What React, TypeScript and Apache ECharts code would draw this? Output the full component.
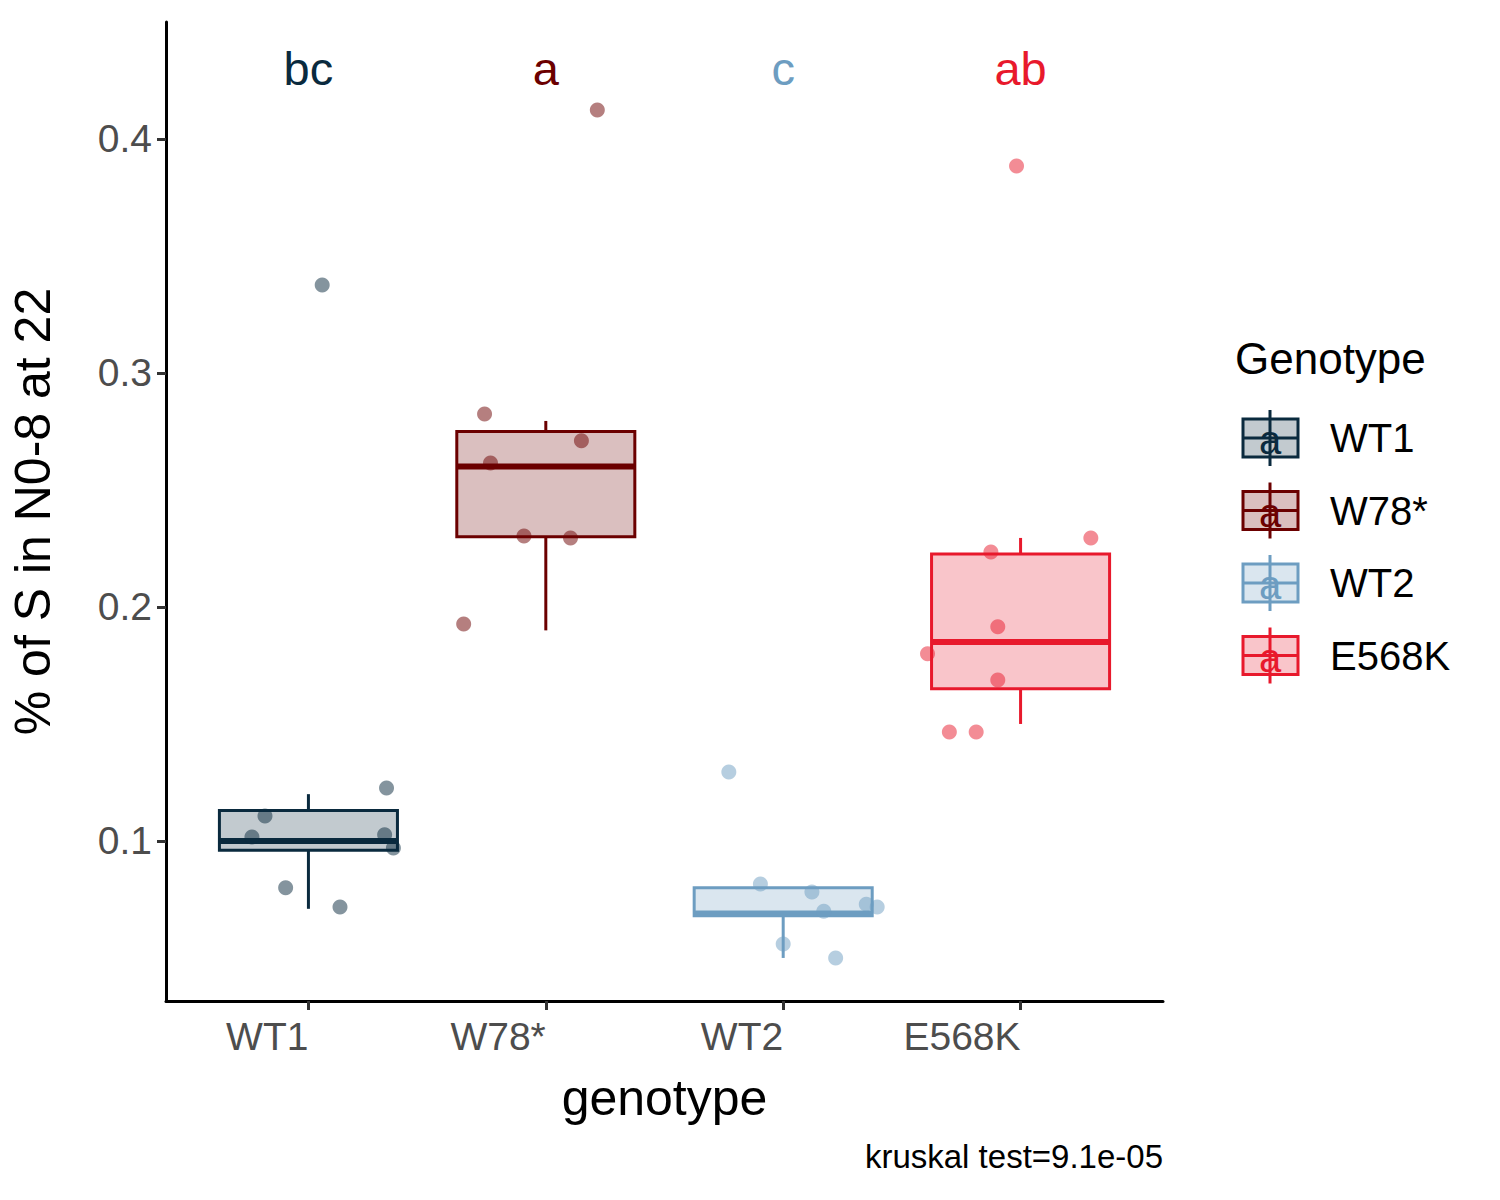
import React, { useEffect, useRef } from "react";
import * as echarts from "echarts";

const genotypes = ["WT1", "W78*", "WT2", "E568K"];
const colors = ["#0a2a3e", "#6b0000", "#6d9dc1", "#e8192c"];
const letters = ["bc", "a", "c", "ab"];
// [low, q1, median, q3, high]
const boxStats = [
  [0.071, 0.096, 0.1, 0.113, 0.12],
  [0.19, 0.23, 0.26, 0.275, 0.2795],
  [0.05, 0.068, 0.069, 0.08, 0.08],
  [0.15, 0.165, 0.185, 0.2226, 0.2295],
];
// jittered points: [x position, value]
const wt1Points = [[1.058, 0.3376], [0.762, 0.1017], [0.817, 0.1107], [0.904, 0.08], [1.133, 0.0718], [1.329, 0.1226], [1.321, 0.1026], [1.358, 0.097]];
const w78Points = [[2.217, 0.4124], [1.742, 0.2825], [1.767, 0.2615], [2.15, 0.271], [1.908, 0.2303], [2.104, 0.2295], [1.654, 0.1927]];
const wt2Points = [[2.771, 0.1295], [2.904, 0.0816], [3.121, 0.0782], [3.171, 0.07], [3.35, 0.073], [3.396, 0.0718], [3.0, 0.056], [3.221, 0.05]];
const e568Points = [[3.983, 0.3885], [3.875, 0.2235], [4.296, 0.2295], [3.904, 0.1915], [3.608, 0.18], [3.904, 0.1688], [3.7, 0.1466], [3.813, 0.1466]];
const pointGroups = [wt1Points, w78Points, wt2Points, e568Points];
const yTicks = [0.1, 0.2, 0.3, 0.4];
const caption = "kruskal test=9.1e-05";

const font = "'Liberation Sans', Arial, sans-serif";

function alpha(hex: string, a: number) {
  const n = parseInt(hex.slice(1), 16);
  return `rgba(${(n >> 16) & 255},${(n >> 8) & 255},${n & 255},${a})`;
}

export default function App() {
  const ref = useRef<HTMLDivElement>(null);

  useEffect(() => {
    document.body.style.margin = "0";
    if (!ref.current) return;
    const chart = echarts.init(ref.current, null, { renderer: "svg" });

    const legendGraphics: any[] = [
      { type: "text", left: 1235, top: 336, style: { text: "Genotype", font: `44px ${font}`, fill: "#000" } },
    ];
    genotypes.forEach((g, i) => {
      const cy = 438 + i * 72.5;
      const c = colors[i];
      legendGraphics.push(
        { type: "line", shape: { x1: 1270, y1: cy - 28, x2: 1270, y2: cy + 28 }, style: { stroke: c, lineWidth: 3 } },
        { type: "rect", shape: { x: 1243, y: cy - 19, width: 55, height: 38 }, style: { fill: alpha(c, 0.25), stroke: c, lineWidth: 3 } },
        { type: "line", shape: { x1: 1243, y1: cy, x2: 1298, y2: cy }, style: { stroke: c, lineWidth: 3 } },
        { type: "text", x: 1270, y: cy + 2, style: { text: "a", font: `40px ${font}`, fill: c, align: "center", verticalAlign: "middle" } },
        { type: "text", x: 1330, y: cy, style: { text: g, font: `40px ${font}`, fill: "#000", verticalAlign: "middle" } }
      );
    });
    legendGraphics.push({
      type: "text", right: 337, top: 1140,
      style: { text: caption, font: `33px ${font}`, fill: "#000" },
    });

    chart.setOption({
      animation: false,
      grid: { left: 159, right: 337, top: 22, bottom: 199 },
      xAxis: {
        type: "value", min: 0.4, max: 4.6,
        name: "genotype", nameLocation: "middle", nameGap: 72,
        nameTextStyle: { fontSize: 50, fontFamily: font, color: "#000" },
        axisLine: { lineStyle: { color: "#000", width: 3 } },
        axisTick: { show: true, length: 9, lineStyle: { color: "#333", width: 3 }, customValues: [1, 2, 3, 4] },
        axisLabel: {
          customValues: [1, 2, 3, 4], align: "right", margin: 16,
          fontSize: 39, fontFamily: font, color: "#4d4d4d",
          formatter: (v: number) => genotypes[Math.round(v) - 1] ?? "",
        },
        splitLine: { show: false },
      },
      yAxis: {
        type: "value", min: 0.0316, max: 0.45,
        name: "% of S in N0-8 at 22", nameLocation: "middle", nameGap: 108,
        nameTextStyle: { fontSize: 50, fontFamily: font, color: "#000" },
        axisLine: { show: true, lineStyle: { color: "#000", width: 3 } },
        axisTick: { show: true, length: 9, lineStyle: { color: "#333", width: 3 }, customValues: yTicks },
        axisLabel: { customValues: yTicks, margin: 14, fontSize: 39, fontFamily: font, color: "#4d4d4d", formatter: (v: number) => v.toFixed(1) },
        splitLine: { show: false },
      },
      series: [
        {
          type: "custom",
          data: boxStats.map((s, i) => [i + 1, ...s, i]),
          encode: { x: 0, y: [1, 2, 3, 4, 5] },
          renderItem: (params: any, api: any) => {
            const x = api.value(0);
            const idx = api.value(6);
            const c = colors[idx];
            const half = api.size([0.75, 0])[0] / 2;
            const p = (v: number) => api.coord([x, v]);
            const [cx, yLow] = p(api.value(1));
            const yQ1 = p(api.value(2))[1];
            const yMed = p(api.value(3))[1];
            const yQ3 = p(api.value(4))[1];
            const yHigh = p(api.value(5))[1];
            const yLet = p(0.43)[1];
            return {
              type: "group",
              children: [
                { type: "line", shape: { x1: cx, y1: yLow, x2: cx, y2: yQ1 }, style: { stroke: c, lineWidth: 3 } },
                { type: "line", shape: { x1: cx, y1: yQ3, x2: cx, y2: yHigh }, style: { stroke: c, lineWidth: 3 } },
                { type: "rect", shape: { x: cx - half, y: yQ3, width: half * 2, height: yQ1 - yQ3 }, style: { fill: alpha(c, 0.25), stroke: c, lineWidth: 3 } },
                { type: "line", shape: { x1: cx - half, y1: yMed, x2: cx + half, y2: yMed }, style: { stroke: c, lineWidth: 6 } },
                { type: "text", x: cx, y: yLet, style: { text: letters[idx], font: `47px ${font}`, fill: c, align: "center", verticalAlign: "middle" } },
              ],
            };
          },
          z: 1,
        },
        ...pointGroups.map((pts, i) => ({
          type: "scatter",
          data: pts,
          symbolSize: 15,
          itemStyle: { color: colors[i], opacity: 0.5 },
          z: 2,
        })),
      ],
      graphic: legendGraphics,
    });

    return () => chart.dispose();
  }, []);

  return <div ref={ref} style={{ width: 1500, height: 1200 }} />;
}
